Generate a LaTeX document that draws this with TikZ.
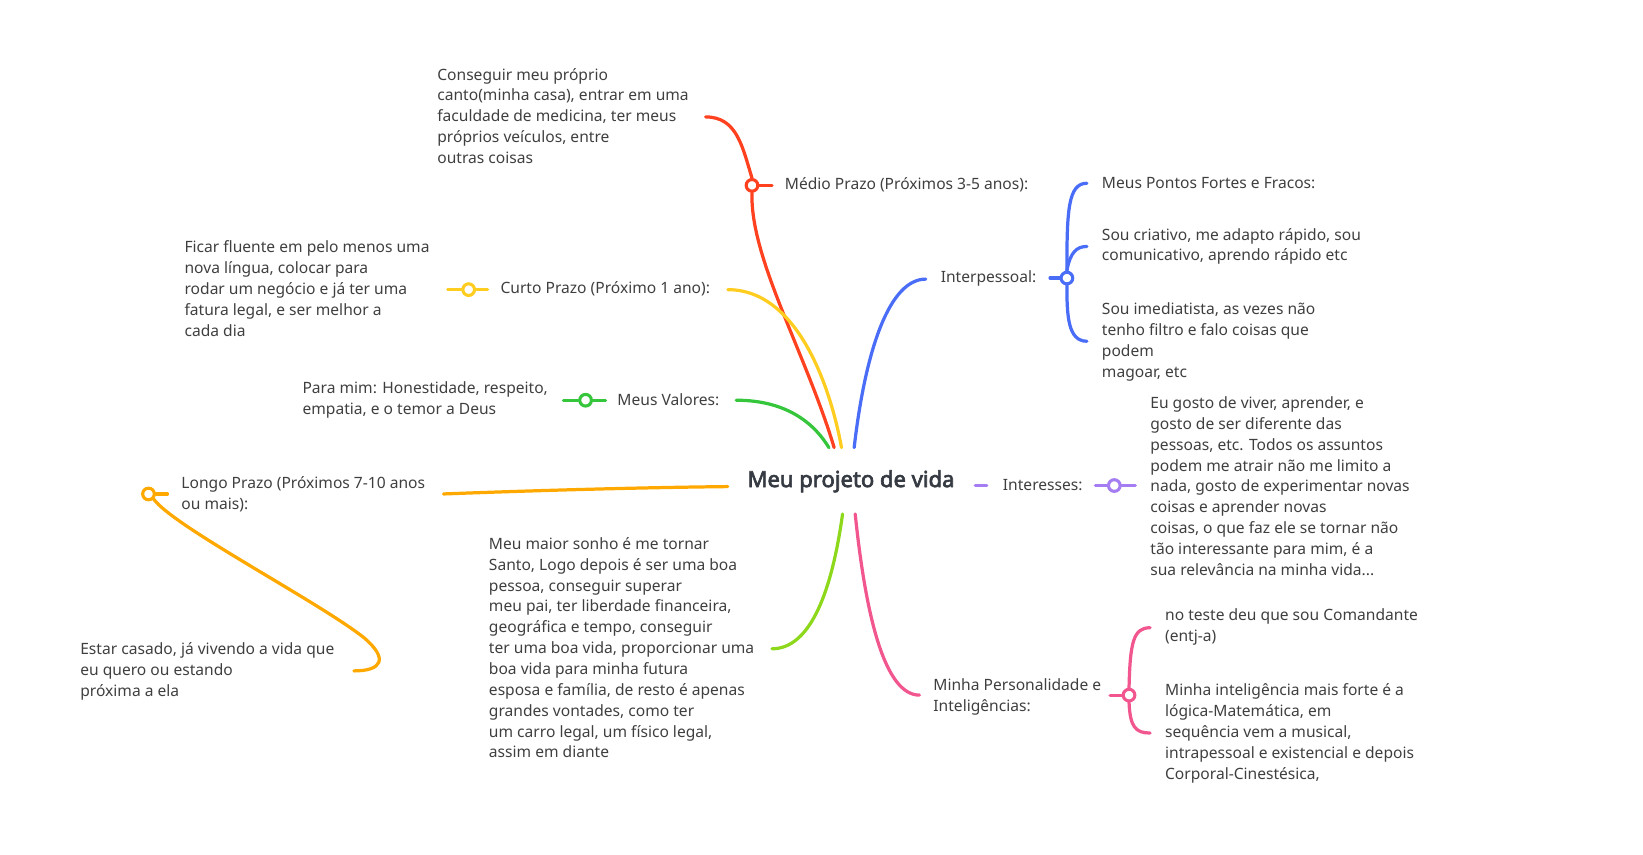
\documentclass[tikz,border=0pt]{standalone}
\usepackage{fontspec}
\setmainfont{Noto Sans}[AutoFakeBold=3]
\definecolor{txtc}{HTML}{3F3F3F}
\definecolor{titlec}{HTML}{363A42}
\definecolor{cR}{HTML}{FF4120}
\definecolor{cY}{HTML}{FFCD1F}
\definecolor{cG}{HTML}{35C63C}
\definecolor{cB}{HTML}{4A6DF7}
\definecolor{cP}{HTML}{A57DF2}
\definecolor{cK}{HTML}{F2568F}
\definecolor{cL}{HTML}{8ED81C}
\definecolor{cO}{HTML}{FFA800}
\begin{document}
\begin{tikzpicture}[x=0.75pt,y=-0.75pt,
  txt/.style={anchor=west,inner sep=0pt,align=left,text=txtc,font=\fontsize{11.1}{14.85}\selectfont},
  titlenode/.style={inner sep=0pt,text=titlec,font=\bfseries\fontsize{15.7}{18}\selectfont},
  br/.style={line width=2.3pt,line cap=round},
  dot/.style={circle,draw,fill=white,line width=2.2pt,minimum size=8.3pt,inner sep=0pt}]
\useasboundingbox (0,0) rectangle (1560,811);

% ---------- title
\node[titlenode] (title) at (808,457) {Meu projeto de vida};

% ---------- coordinates at the title
\coordinate (oR) at (792,425);
\coordinate (oY) at (799,425);
\coordinate (oG) at (787,425);
\coordinate (oB) at (811,425);
\coordinate (oL) at (800,488);
\coordinate (oK) at (812,488);
\coordinate (oO) at (691,462);
\coordinate (pS) at (926,461);

% ---------- Medio prazo (red)
\node[txt] (tMedD) at (415,110) {Conseguir meu próprio\\canto(minha casa), entrar em uma\\faculdade de medicina, ter meus\\próprios veículos, entre\\outras coisas};
\node[txt] (tMed) at (745,175.5) {Médio Prazo (Próximos 3-5 anos):};
\node[dot,draw=cR] (dR) at (714,176) {};
\coordinate (eR) at (670,111);
\coordinate (lR) at (733,176);
\draw[br,cR] (oR) .. controls (765,335) and (712,245) .. (dR.south);
\draw[br,cR] (dR.north) .. controls (705,140) and (700,111) .. (eR);
\draw[br,cR] (dR.east) -- (lR);

% ---------- Curto prazo (yellow)
\node[txt] (tCurD) at (175,274) {Ficar fluente em pelo menos uma\\nova língua, colocar para\\rodar um negócio e já ter uma\\fatura legal, e ser melhor a\\cada dia};
\node[txt] (tCur) at (475,274.5) {Curto Prazo (Próximo 1 ano):};
\node[dot,draw=cY] (dY) at (445,275) {};
\coordinate (eY) at (691,275);
\coordinate (aY) at (425,275);
\coordinate (bY) at (463,275);
\draw[br,cY] (eY) .. controls (760,275) and (790,375) .. (oY);
\draw[br,cY] (aY) -- (dY.west);
\draw[br,cY] (dY.east) -- (bY);

% ---------- Valores (green)
\node[txt] (tValD) at (287,379.5) {Para mim: Honestidade, respeito,\\empatia, e o temor a Deus};
\node[txt] (tVal) at (586,379.5) {Meus Valores:};
\node[dot,draw=cG] (dG) at (556,380) {};
\coordinate (eG) at (699,380);
\coordinate (aG) at (535,380);
\coordinate (bG) at (575,380);
\draw[br,cG] (eG) .. controls (750,380) and (775,405) .. (oG);
\draw[br,cG] (aG) -- (dG.west);
\draw[br,cG] (dG.east) -- (bG);

% ---------- Longo prazo (orange)
\node[txt] (tLon) at (172,469.5) {Longo Prazo (Próximos 7-10 anos\\ou mais):};
\node[txt] (tLonD) at (76,637.5) {Estar casado, já vivendo a vida que\\eu quero ou estando\\próxima a ela};
\node[dot,draw=cO] (dO) at (141,469) {};
\coordinate (eO) at (421,469);
\coordinate (bO) at (159,469);
\coordinate (mO) at (345,605);
\coordinate (fO) at (336,637);
\draw[br,cO] (oO) .. controls (600,463) and (500,466) .. (eO);
\draw[br,cO] (dO.east) -- (bO);
\draw[br,cO] (dO.south east) .. controls (165,500) and (300,570) .. (mO) .. controls (370,626) and (362,637) .. (fO);

% ---------- Sonho (lime)
\node[txt] (tSon) at (464,615) {Meu maior sonho é me tornar\\Santo, Logo depois é ser uma boa\\pessoa, conseguir superar\\meu pai, ter liberdade financeira,\\geográfica e tempo, conseguir\\ter uma boa vida, proporcionar uma\\boa vida para minha futura\\esposa e família, de resto é apenas\\grandes vontades, como ter\\um carro legal, um físico legal,\\assim em diante};
\coordinate (eL) at (733,616);
\draw[br,cL] (oL) .. controls (790,560) and (770,616) .. (eL);

% ---------- Interpessoal (blue)
\node[txt] (tInt) at (893,264.5) {Interpessoal:};
\node[dot,draw=cB] (dB) at (1013,264) {};
\coordinate (eB) at (879,265);
\coordinate (aB) at (997,264);
\coordinate (b1) at (1032,174);
\coordinate (b2) at (1032,234);
\coordinate (b3) at (1032,324);
\draw[br,cB] (oB) .. controls (822,330) and (845,265) .. (eB);
\draw[br,cB] (aB) -- (dB.west);
\draw[br,cB] (dB.north) .. controls (1013,200) and (1014,174) .. (b1);
\draw[br,cB] (dB.north) .. controls (1016,240) and (1022,234) .. (b2);
\draw[br,cB] (dB.south) .. controls (1013,300) and (1014,324) .. (b3);
\node[txt] (tB1) at (1046,173.5) {Meus Pontos Fortes e Fracos:};
\node[txt] (tB2) at (1046,234) {Sou criativo, me adapto rápido, sou\\comunicativo, aprendo rápido etc};
\node[txt] (tB3) at (1046,324.5) {Sou imediatista, as vezes não\\tenho filtro e falo coisas que\\podem\\magoar, etc};

% ---------- Interesses (purple)
\coordinate (pE) at (937,461);
\draw[br,cP] (pS) -- (pE);
\node[txt] (tIts) at (952,460.5) {Interesses:};
\node[dot,draw=cP] (dP) at (1058,461) {};
\coordinate (aP) at (1040,461);
\coordinate (bP) at (1078,461);
\draw[br,cP] (aP) -- (dP.west);
\draw[br,cP] (dP.east) -- (bP);
\node[txt] (tItsD) at (1092,461.5) {Eu gosto de viver, aprender, e\\gosto de ser diferente das\\pessoas, etc. Todos os assuntos\\podem me atrair não me limito a\\nada, gosto de experimentar novas\\coisas e aprender novas\\coisas, o que faz ele se tornar não\\tão interessante para mim, é a\\sua relevância na minha vida...};

% ---------- Personalidade (pink)
\node[txt] (tPer) at (886,661.5) {Minha Personalidade e\\Inteligências:};
\node[dot,draw=cK] (dK) at (1072,660) {};
\coordinate (eK) at (873,660);
\coordinate (aK) at (1054,660);
\coordinate (k1) at (1092,596);
\coordinate (k2) at (1092,696);
\draw[br,cK] (oK) .. controls (822,585) and (840,660) .. (eK);
\draw[br,cK] (aK) -- (dK.west);
\draw[br,cK] (dK.north) .. controls (1073,610) and (1076,596) .. (k1);
\draw[br,cK] (dK.south) .. controls (1073,690) and (1078,696) .. (k2);
\node[txt] (tK1) at (1106,595.5) {no teste deu que sou Comandante\\(entj-a)};
\node[txt] (tK2) at (1106,696.5) {Minha inteligência mais forte é a\\lógica-Matemática, em\\sequência vem a musical,\\intrapessoal e existencial e depois\\Corporal-Cinestésica,};
\end{tikzpicture}
\end{document}
